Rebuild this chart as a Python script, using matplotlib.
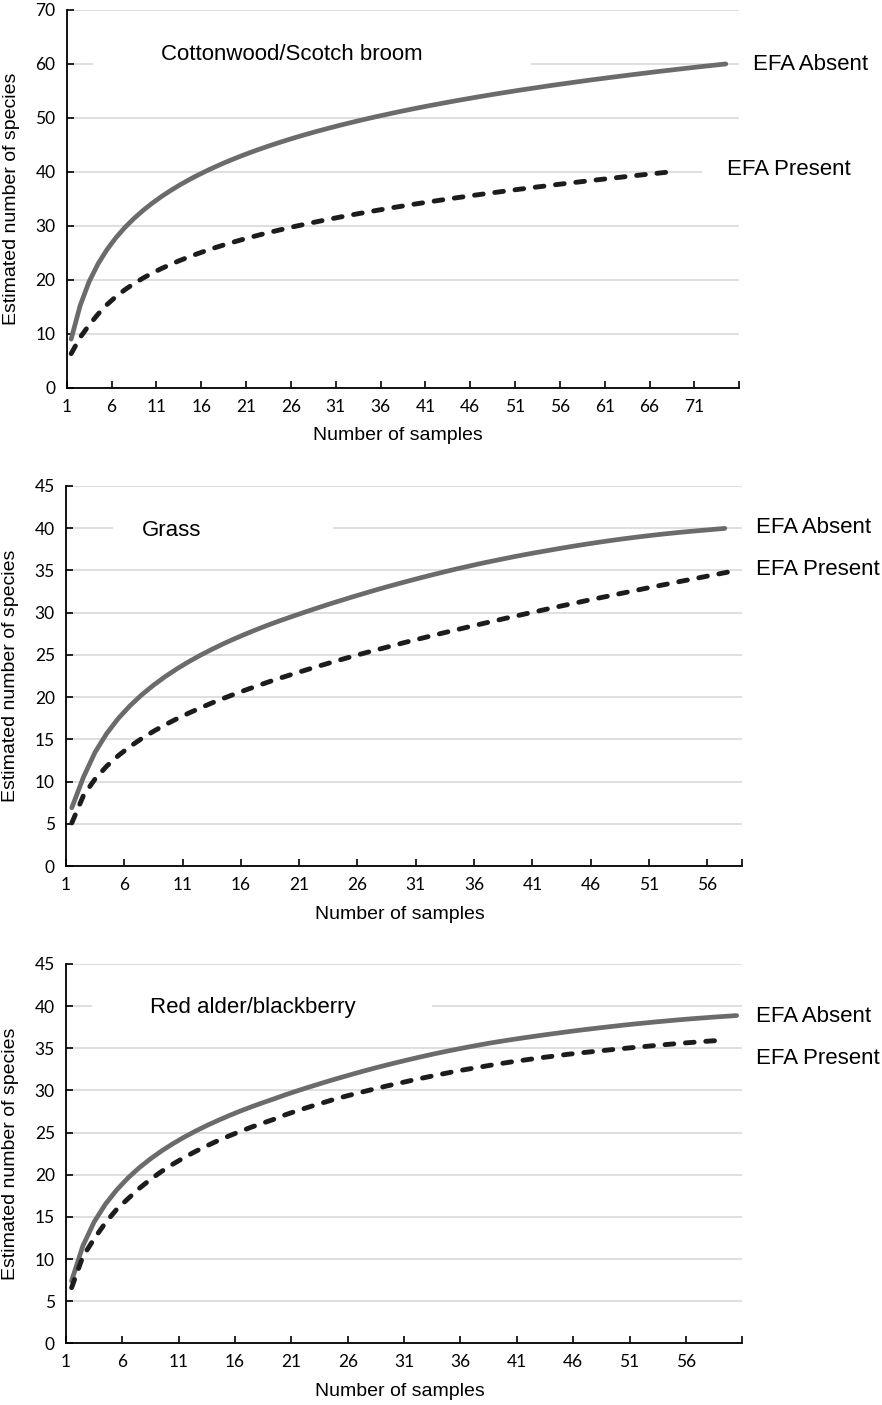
import numpy as np
import matplotlib
matplotlib.use("Agg")
import matplotlib.pyplot as plt
from matplotlib.patches import Rectangle

# estimated number of species per number of samples
cotton_absent = [9.0, 15.20, 19.64, 22.95, 25.60, 27.81, 29.70, 31.35, 32.82, 34.14,
                 35.34, 36.44, 37.46, 38.40, 39.28, 40.10, 40.88, 41.62, 42.31, 42.97,
                 43.60, 44.20, 44.77, 45.32, 45.85, 46.36, 46.85, 47.32, 47.77, 48.21,
                 48.64, 49.05, 49.45, 49.84, 50.22, 50.58, 50.94, 51.29, 51.63, 51.96,
                 52.28, 52.59, 52.90, 53.20, 53.49, 53.78, 54.06, 54.34, 54.61, 54.87,
                 55.13, 55.38, 55.63, 55.88, 56.12, 56.35, 56.58, 56.81, 57.04, 57.25,
                 57.47, 57.68, 57.89, 58.10, 58.30, 58.50, 58.70, 58.89, 59.08, 59.27,
                 59.46, 59.64, 59.82, 60.00]
cotton_present = [6.3, 9.3, 11.6, 13.63, 15.40, 16.88, 18.16, 19.28, 20.29, 21.19,
                  22.02, 22.78, 23.49, 24.15, 24.77, 25.36, 25.91, 26.44, 26.93, 27.41,
                  27.87, 28.31, 28.73, 29.13, 29.52, 29.90, 30.26, 30.62, 30.96, 31.29,
                  31.62, 31.93, 32.24, 32.54, 32.83, 33.12, 33.40, 33.67, 33.94, 34.20,
                  34.45, 34.71, 34.95, 35.20, 35.43, 35.67, 35.90, 36.12, 36.34, 36.56,
                  36.78, 36.99, 37.20, 37.40, 37.61, 37.81, 38.00, 38.20, 38.39, 38.58,
                  38.77, 38.95, 39.14, 39.32, 39.50, 39.67, 39.85, 40.02]

grass_absent = [6.9, 10.53, 13.49, 15.71, 17.50, 18.99, 20.28, 21.41, 22.42, 23.34,
                24.17, 24.94, 25.65, 26.32, 26.94, 27.53, 28.09, 28.62, 29.12, 29.60,
                30.07, 30.53, 30.98, 31.41, 31.84, 32.25, 32.66, 33.05, 33.43, 33.80,
                34.16, 34.51, 34.85, 35.18, 35.49, 35.80, 36.09, 36.37, 36.65, 36.91,
                37.16, 37.40, 37.64, 37.87, 38.09, 38.30, 38.50, 38.69, 38.87, 39.04,
                39.20, 39.35, 39.49, 39.62, 39.74, 39.86, 39.98]
grass_present = [5.1, 8.35, 10.32, 11.84, 13.09, 14.16, 15.10, 15.95, 16.72, 17.43,
                 18.09, 18.71, 19.30, 19.85, 20.38, 20.89, 21.38, 21.86, 22.31, 22.75,
                 23.18, 23.60, 24.01, 24.41, 24.80, 25.18, 25.55, 25.91, 26.27, 26.63,
                 26.97, 27.31, 27.65, 27.98, 28.31, 28.63, 28.95, 29.27, 29.58, 29.89,
                 30.19, 30.50, 30.80, 31.09, 31.39, 31.68, 31.96, 32.25, 32.53, 32.82,
                 33.10, 33.37, 33.65, 33.92, 34.19, 34.46, 34.73, 35.00]

alder_absent = [7.4, 11.57, 14.40, 16.51, 18.20, 19.61, 20.83, 21.89, 22.84, 23.69,
                24.47, 25.18, 25.84, 26.45, 27.03, 27.57, 28.08, 28.56, 29.02, 29.50,
                29.94, 30.37, 30.78, 31.19, 31.58, 31.96, 32.33, 32.69, 33.03, 33.36,
                33.68, 33.99, 34.29, 34.57, 34.84, 35.10, 35.35, 35.59, 35.81, 36.02,
                36.22, 36.41, 36.60, 36.78, 36.96, 37.13, 37.29, 37.45, 37.60, 37.75,
                37.89, 38.02, 38.15, 38.27, 38.39, 38.50, 38.60, 38.70, 38.79, 38.88]
alder_present = [6.6, 10.3, 12.4, 14.3, 15.9, 17.15, 18.38, 19.45, 20.41, 21.27,
                 22.05, 22.77, 23.43, 24.05, 24.62, 25.16, 25.67, 26.14, 26.60, 27.13,
                 27.58, 28.01, 28.42, 28.82, 29.20, 29.55, 29.89, 30.22, 30.54, 30.84,
                 31.14, 31.43, 31.71, 31.98, 32.25, 32.49, 32.72, 32.95, 33.17, 33.38,
                 33.57, 33.76, 33.94, 34.11, 34.28, 34.43, 34.57, 34.71, 34.85, 34.98,
                 35.11, 35.23, 35.36, 35.47, 35.59, 35.69, 35.80, 35.89, 35.99]

titles = ["Cottonwood/Scotch broom", "Grass", "Red alder/blackberry"]
xticklabels_cotton = ["1", "6", "11", "16", "21", "26", "31", "36", "41", "46", "51", "56", "61", "66", "71"]
xticklabels_short = ["1", "6", "11", "16", "21", "26", "31", "36", "41", "46", "51", "56"]

panels = [
    dict(rect=[0.0756, 0.7241, 0.7626, 0.2688], ncat=75, ymax=70, ystep=10,
         absent=cotton_absent, present=cotton_present, title=titles[0], xlabels=xticklabels_cotton,
         title_xy=(0.335, 0.882), box=(0.039, 0.836, 0.651, 0.09),
         abs_xy=(1.0204, 0.856), pre_xy=(0.9817, 0.578), pre_box=(0.9446, 0.55, 0.0554, 0.05)),
    dict(rect=[0.0748, 0.3836, 0.7668, 0.2705], ncat=58, ymax=45, ystep=5,
         absent=grass_absent, present=grass_present, title=titles[1], xlabels=xticklabels_short,
         title_xy=(0.1567, 0.884), box=(0.0695, 0.86, 0.3253, 0.06),
         abs_xy=(1.0202, 0.891), pre_xy=(1.0202, 0.779), pre_box=None),
    dict(rect=[0.0748, 0.0439, 0.7668, 0.2700], ncat=60, ymax=45, ystep=5,
         absent=alder_absent, present=alder_present, title=titles[2], xlabels=xticklabels_short,
         title_xy=(0.2758, 0.885), box=(0.0384, 0.86, 0.5028, 0.06),
         abs_xy=(1.0202, 0.861), pre_xy=(1.0202, 0.752), pre_box=None),
]

fig = plt.figure(figsize=(8.82, 14.05), dpi=100)
txt = dict(family="Liberation Sans", color="black")

for p in panels:
    ax = fig.add_axes(p["rect"])
    ax.set_axisbelow(True)
    ax.yaxis.grid(True, color="#d9d9d9", lw=1.2)

    xa = np.arange(1, len(p["absent"]) + 1) - 0.5
    xp = np.arange(1, len(p["present"]) + 1) - 0.5
    ax.plot(xa, p["absent"], color="#6b6b6b", lw=3.4, solid_capstyle="round",
            solid_joinstyle="round", zorder=3)
    ax.plot(xp, p["present"], color="#1c1c1c", lw=3.5, linestyle=(0, (1.8, 2.4)),
            dash_capstyle="round", zorder=3)

    ax.set_xlim(0, p["ncat"])
    ax.set_ylim(0, p["ymax"])
    ax.set_xticks(np.arange(0, 5 * len(p["xlabels"]), 5))
    ax.set_xticklabels(p["xlabels"])
    ax.set_xticks([p["ncat"]], minor=True)
    ax.set_yticks(np.arange(0, p["ymax"] + 1, p["ystep"]))

    for s in ["top", "right"]:
        ax.spines[s].set_visible(False)
    for s in ["left", "bottom"]:
        ax.spines[s].set_linewidth(1.3)
    ax.tick_params(axis="both", which="both", direction="in", length=5, width=1.2,
                   labelsize=12.5, colors="black")
    ax.tick_params(axis="x", pad=8)
    ax.tick_params(axis="y", pad=8)
    for lab in ax.get_xticklabels() + ax.get_yticklabels():
        lab.set_family("Lato")

    # white boxes behind the text boxes, they break the gridlines
    bx = p["box"]
    ax.add_patch(Rectangle((bx[0], bx[1]), bx[2], bx[3], transform=ax.transAxes,
                           facecolor="white", edgecolor="none", zorder=1))
    if p["pre_box"] is not None:
        bx = p["pre_box"]
        ax.add_patch(Rectangle((bx[0], bx[1]), bx[2], bx[3], transform=ax.transAxes,
                               facecolor="white", edgecolor="none", zorder=1))

    ax.text(p["title_xy"][0], p["title_xy"][1], p["title"], transform=ax.transAxes,
            ha="center", va="center", fontsize=16, zorder=4, **txt)
    ax.text(p["abs_xy"][0], p["abs_xy"][1], "EFA Absent", transform=ax.transAxes,
            ha="left", va="center", fontsize=16, clip_on=False, **txt)
    ax.text(p["pre_xy"][0], p["pre_xy"][1], "EFA Present", transform=ax.transAxes,
            ha="left", va="center", fontsize=16, clip_on=False, zorder=4, **txt)

    ax.set_xlabel("Number of samples", fontsize=14, **txt)
    ax.xaxis.label.set_va("center")
    ax.xaxis.set_label_coords(0.493, -0.128)
    ax.set_ylabel("Estimated number of species", fontsize=14, **txt)
    ax.yaxis.label.set_va("center")
    ax.yaxis.set_label_coords(-0.082, 0.5)

fig.savefig("out.png", dpi=100)
